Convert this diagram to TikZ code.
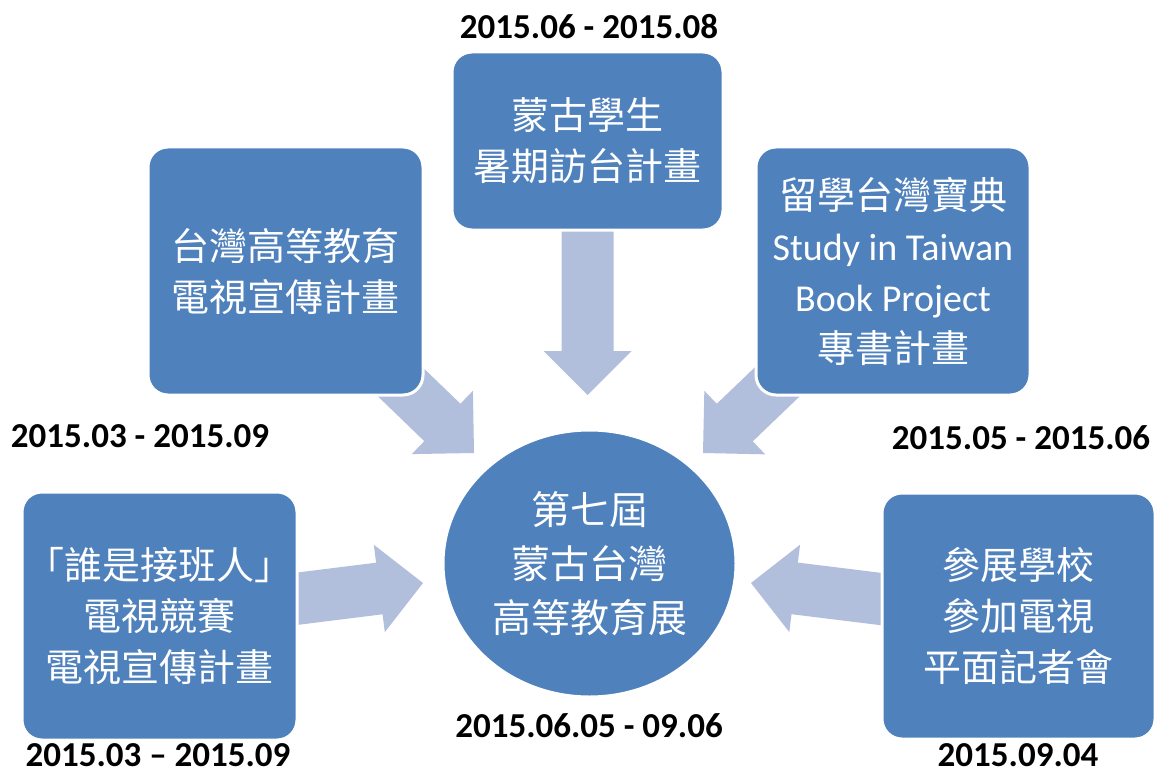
\documentclass[tikz,border=0pt]{standalone}
\usepackage{fontspec}
\setmainfont{Carlito}
\newfontfamily\cjkfont{Noto Sans CJK TC}
\newfontfamily\carlfont{Carlito}
\usetikzlibrary{calc,shapes.geometric,backgrounds}
\definecolor{boxblue}{RGB}{79,129,189}
\definecolor{arrowblue}{RGB}{177,191,220}
\tikzset{
  panel/.style={rectangle, rounded corners=20pt, fill=boxblue, draw=white, line width=3pt,
    text=white, align=center, font=\cjkfont\fontsize{38}{51}\selectfont, inner sep=0pt},
  hub/.style={ellipse, fill=boxblue, draw=white, line width=3pt, minimum width=293pt,
    minimum height=267pt, text=white, align=center,
    font=\cjkfont\fontsize{39}{54}\selectfont, inner sep=0pt},
  datelabel/.style={font=\bfseries\fontsize{35}{40}\selectfont, inner sep=0pt, text=black},
  blockarrow/.style={fill=arrowblue},
}
% #1 prefix, #2 start (named), #3 tip (named)
\newcommand\blockarr[3]{%
  \coordinate (#1h) at ($(#3)!44pt!(#2)$);
  \fill[blockarrow] (#3) -- ($(#1h)!44pt!90:(#2)$) -- ($(#1h)!26pt!90:(#2)$)
    -- ($(#2)!26pt!-90:(#3)$) -- ($(#2)!26pt!90:(#3)$) -- ($(#1h)!26pt!-90:(#2)$)
    -- ($(#1h)!44pt!-90:(#2)$) -- cycle;
}
\begin{document}
\begin{tikzpicture}[x=1pt,y=-1pt]
\useasboundingbox (0,0) rectangle (1159,773);

\node[panel, minimum width=271pt, minimum height=178pt] (tp) at (587.5,141) {蒙古學生\\暑期訪台計畫};
\node[panel, minimum width=275pt, minimum height=248pt] (lt) at (285.5,271) {台灣高等教育\\電視宣傳計畫};
\node[panel, minimum width=274pt, minimum height=248pt] (rt) at (893,271)
  {留學台灣寶典\\{\carlfont Study in Taiwan}\\{\carlfont Book Project}\\專書計畫};
\node[panel, minimum width=275pt, minimum height=248pt] (lb) at (159.5,616) {「誰是接班人」\\電視競賽\\電視宣傳計畫};
\node[panel, minimum width=273pt, minimum height=246pt] (rb) at (1018.5,616) {參展學校\\參加電視\\平面記者會};
\node[hub] (hub) at (589.5,563.5) {第七屆\\蒙古台灣\\高等教育展};

\coordinate (ttop) at (587.5,395);
\coordinate (tlt) at (474,453);
\coordinate (trt) at (703,453);
\coordinate (tlb) at (423,583);
\coordinate (trb) at (751,583);

\begin{pgfonlayer}{background}
\fill[white] (0,0) rectangle (1159,773);
\blockarr{a1}{tp}{ttop}
\blockarr{a2}{lt}{tlt}
\blockarr{a3}{rt}{trt}
\blockarr{a4}{lb}{tlb}
\blockarr{a5}{rb}{trb}
\end{pgfonlayer}

\node[datelabel] (d1) at (589,27) {2015.06 - 2015.08};
\node[datelabel] (d2) at (140,436) {2015.03 - 2015.09};
\node[datelabel] (d3) at (1021,438) {2015.05 - 2015.06};
\node[datelabel] (d4) at (589,726) {2015.06.05 - 09.06};
\node[datelabel] (d5) at (158,755) {2015.03 – 2015.09};
\node[datelabel] (d6) at (1018,755) {2015.09.04};
\end{tikzpicture}
\end{document}
